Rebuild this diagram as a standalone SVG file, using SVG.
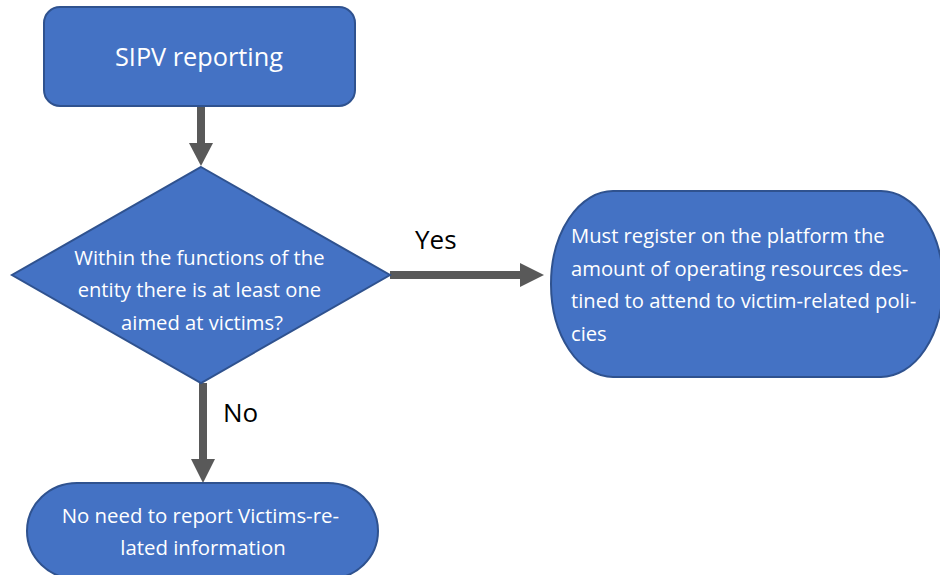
<svg xmlns="http://www.w3.org/2000/svg" width="940" height="575" viewBox="0 0 940 575">
<defs>
<style>
.node{fill:#4472C4;stroke:#2F528F;stroke-width:2}
.t{fill:#FFFFFF;font-family:"Open Sans","Noto Sans",sans-serif}
.lbl{fill:#000000;font-family:"Open Sans","Noto Sans",sans-serif;font-size:26px}
.conn{stroke:#595959;stroke-width:8;fill:none}
.head{fill:#595959}
</style>
</defs>
<rect width="940" height="575" fill="#FFFFFF"/>
<g id="connectors">
<line class="conn" x1="201" y1="106" x2="201" y2="144"/>
<polygon class="head" points="189,143 213,143 201,166"/>
<line class="conn" x1="390" y1="275" x2="521" y2="275"/>
<polygon class="head" points="520,263 520,287 544,275"/>
<line class="conn" x1="203" y1="383" x2="203" y2="460"/>
<polygon class="head" points="191,459 215,459 203,483"/>
<text class="lbl" x="415" y="249">Yes</text>
<text class="lbl" x="223" y="422">No</text>
</g>
<g id="start">
<rect class="node" x="44" y="7" width="311" height="99" rx="16" ry="16"/>
<text class="t" x="199" y="66" font-size="25.3" text-anchor="middle">SIPV reporting</text>
</g>
<g id="decision">
<polygon class="node" points="201,167 390,275 201,383 12,275"/>
<text class="t" font-size="20.2" text-anchor="middle">
<tspan x="202" y="265">Within the functions of the</tspan>
<tspan x="202" y="297">entity there is at least one</tspan>
<tspan x="202" y="330">aimed at victims?</tspan>
</text>
</g>
<g id="yes-result">
<rect class="node" x="551" y="191" width="392" height="186" rx="62" ry="93"/>
<text class="t" font-size="20.2">
<tspan x="571" y="243">Must register on the platform the</tspan>
<tspan x="571" y="276">amount of operating resources des-</tspan>
<tspan x="571" y="308">tined to attend to victim-related poli-</tspan>
<tspan x="571" y="341">cies</tspan>
</text>
</g>
<g id="no-result">
<rect class="node" x="27" y="483" width="351" height="96" rx="50" ry="48"/>
<text class="t" font-size="20.4" text-anchor="middle">
<tspan x="203" y="523">No need to report Victims-re-</tspan>
<tspan x="203" y="555">lated information</tspan>
</text>
</g>
</svg>
